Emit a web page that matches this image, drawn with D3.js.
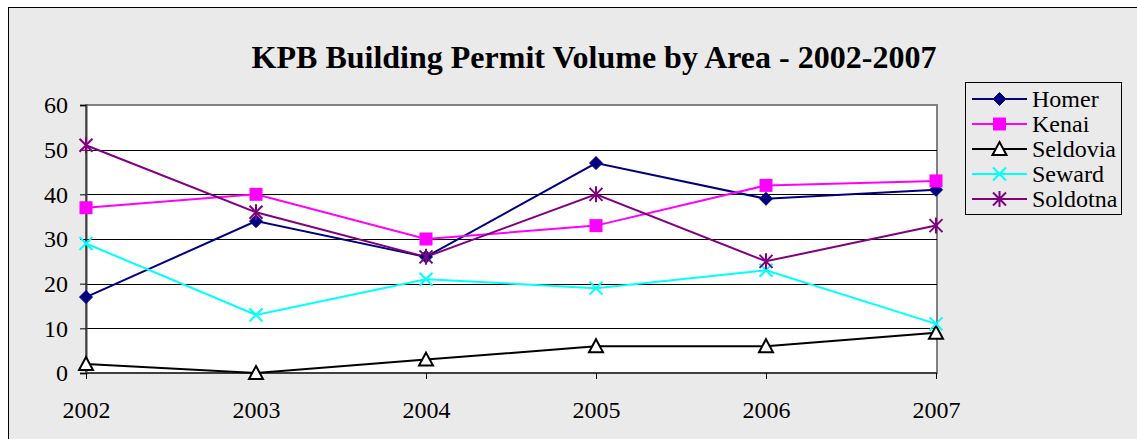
<!DOCTYPE html>
<html><head><meta charset="utf-8">
<script src="https://cdn.jsdelivr.net/npm/d3@7"></script>
<style>
html,body{margin:0;padding:0;background:#fff;}
svg{display:block;}
text{font-family:"Liberation Serif","Times New Roman",serif;}
</style></head>
<body>
<script>
const years = ["2002","2003","2004","2005","2006","2007"];
const homer = [17, 34, 26, 47, 39, 41];
const kenai = [37, 40, 30, 33, 42, 43];
const seldovia = [2, 0, 3, 6, 6, 9];
const seward = [29, 13, 21, 19, 23, 11];
const soldotna = [51, 36, 26, 40, 25, 33];
const yTicks = [0, 10, 20, 30, 40, 50, 60];
const seriesNames = ["Homer","Kenai","Seldovia","Seward","Soldotna"];
const chartTitle = "KPB Building Permit Volume by Area - 2002-2007";

const series = [
  {name: seriesNames[0], values: homer, color: "#000080", marker: "diamond"},
  {name: seriesNames[1], values: kenai, color: "#FF00FF", marker: "square"},
  {name: seriesNames[2], values: seldovia, color: "#000000", marker: "triangle"},
  {name: seriesNames[3], values: seward, color: "#00FFFF", marker: "x"},
  {name: seriesNames[4], values: soldotna, color: "#800080", marker: "star"}
];

const W = 1137, H = 439;
const svg = d3.select("body").append("svg").attr("width", W).attr("height", H);

// outer chart area
svg.append("rect").attr("x", 8.5).attr("y", 7.5).attr("width", W + 10).attr("height", H + 10)
  .attr("fill", "#EAEAEA").attr("stroke", "#000").attr("stroke-width", 1);

const pL = 86, pR = 937, pT = 105, pB = 373;
const x = d3.scalePoint().domain(years).range([pL, pR - 1]);
const y = d3.scaleLinear().domain([0, 60]).range([pB, pT]);

// plot area
svg.append("rect").attr("x", pL).attr("y", pT).attr("width", pR - pL).attr("height", pB - pT)
  .attr("fill", "#fff").attr("stroke", "#808080").attr("stroke-width", 2);

// gridlines
svg.append("g").selectAll("line").data(yTicks.filter(d => d > 0 && d < 60)).join("line")
  .attr("x1", pL).attr("x2", pR).attr("y1", d => Math.round(y(d)) + 0.5).attr("y2", d => Math.round(y(d)) + 0.5)
  .attr("stroke", "#000").attr("stroke-width", 1);

// y axis
const yAxis = svg.append("g").attr("transform", `translate(${pL},0)`)
  .call(d3.axisLeft(y).tickValues(yTicks).tickSize(6).tickPadding(12).tickFormat(d3.format("d")));
yAxis.attr("font-family", null).attr("font-size", null);
yAxis.select(".domain").attr("stroke", "#404040").attr("stroke-width", 2);
yAxis.selectAll(".tick line").attr("stroke", "#000");
yAxis.selectAll("text").attr("font-size", 24).attr("fill", "#000");

// x axis
const xAxis = svg.append("g").attr("transform", `translate(0,${pB})`)
  .call(d3.axisBottom(x).tickSize(6).tickPadding(22).tickSizeOuter(0));
xAxis.attr("font-family", null).attr("font-size", null);
xAxis.select(".domain").attr("stroke", "#404040").attr("stroke-width", 2).attr("d", `M${pL},0H${pR}`);
xAxis.selectAll(".tick line").attr("stroke", "#000");
xAxis.selectAll("text").attr("font-size", 24).attr("fill", "#000");

function drawMarker(g, type, color) {
  if (type === "diamond") {
    g.append("path").attr("d", "M0,-6.5L6.5,0L0,6.5L-6.5,0Z").attr("fill", color).attr("stroke", color).attr("stroke-width", 1);
  } else if (type === "square") {
    g.append("rect").attr("x", -6.5).attr("y", -6.5).attr("width", 13).attr("height", 13).attr("fill", color);
  } else if (type === "triangle") {
    g.append("path").attr("d", "M0,-7L7,6L-7,6Z").attr("fill", "#fff").attr("stroke", color).attr("stroke-width", 2);
  } else if (type === "x") {
    g.append("path").attr("d", "M-6.5,-6.5L6.5,6.5M-6.5,6.5L6.5,-6.5").attr("stroke", color).attr("stroke-width", 2);
  } else if (type === "star") {
    g.append("path").attr("d", "M-6.5,-6.5L6.5,6.5M-6.5,6.5L6.5,-6.5M0,-8L0,8").attr("stroke", color).attr("stroke-width", 2);
  }
}

const line = d3.line().x((d, i) => x(years[i])).y(d => y(d));
series.forEach(s => {
  svg.append("path").datum(s.values).attr("d", line).attr("fill", "none")
    .attr("stroke", s.color).attr("stroke-width", 2);
});
series.forEach(s => {
  s.values.forEach((v, i) => {
    const g = svg.append("g").attr("transform", `translate(${x(years[i])},${y(v)})`);
    drawMarker(g, s.marker, s.color);
  });
});

// title
svg.append("text").attr("x", 594).attr("y", 68).attr("text-anchor", "middle")
  .attr("font-size", 32).attr("font-weight", "bold").attr("fill", "#000").text(chartTitle);

// legend
const lg = svg.append("g");
lg.append("rect").attr("x", 965.5).attr("y", 82.5).attr("width", 156).attr("height", 132)
  .attr("fill", "#EAEAEA").attr("stroke", "#000").attr("stroke-width", 1);
series.forEach((s, i) => {
  const cy = 99 + i * 25;
  lg.append("line").attr("x1", 972).attr("x2", 1027).attr("y1", cy).attr("y2", cy)
    .attr("stroke", s.color).attr("stroke-width", 2);
  drawMarker(lg.append("g").attr("transform", `translate(999.5,${cy})`), s.marker, s.color);
  lg.append("text").attr("x", 1032).attr("y", cy + 8).attr("font-size", 24).attr("fill", "#000").text(s.name);
});
</script>
</body></html>
